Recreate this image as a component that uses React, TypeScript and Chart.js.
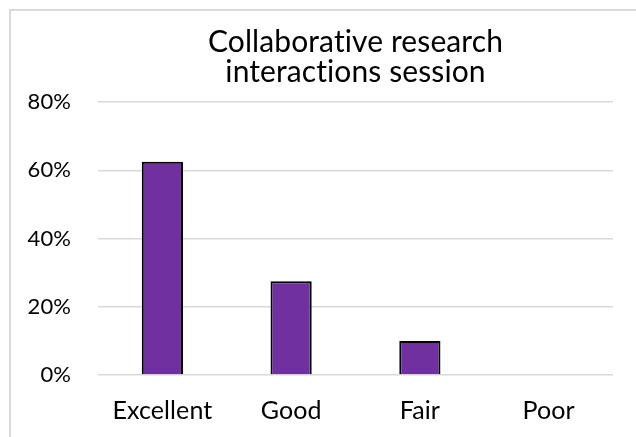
import React, { useEffect, useRef } from "react";
import { Chart, registerables } from "chart.js";

Chart.register(...registerables);

const categories = ["Excellent", "Good", "Fair", "Poor"];
const percentages = [62.5, 27.5, 10, 0];
const yTickValues = [0, 20, 40, 60, 80];
const titleLines = ["Collaborative research", "interactions session"];

const noLigatures = {
  id: "noLigatures",
  beforeDraw(chart: any) {
    const ctx = chart.ctx as any;
    try {
      ctx.textRendering = "optimizeSpeed";
      ctx.letterSpacing = "0.1px";
    } catch (e) {
      /* ignore */
    }
  },
};

export default function App() {
  const ref = useRef<HTMLCanvasElement | null>(null);

  useEffect(() => {
    const canvas = ref.current;
    if (!canvas) return;
    const font = "Lato, 'Open Sans', sans-serif";
    const chart = new Chart(canvas, {
      type: "bar",
      data: {
        labels: categories,
        datasets: [
          {
            data: percentages,
            backgroundColor: "#7030A0",
            borderColor: "#000000",
            borderWidth: 2,
            borderSkipped: "bottom",
            barPercentage: 0.32,
            categoryPercentage: 1,
          },
        ],
      },
      plugins: [noLigatures],
      options: {
        responsive: false,
        animation: false,
        layout: { padding: { left: 0, right: 23, top: 12, bottom: 0 } },
        plugins: {
          legend: { display: false },
          tooltip: { enabled: false },
          title: {
            display: true,
            text: titleLines,
            fullSize: false,
            color: "#000000",
            font: { family: font, size: 30, weight: "normal", lineHeight: 1 },
            padding: { top: 15, bottom: 15 },
          },
        },
        scales: {
          x: {
            grid: { display: false, drawTicks: false },
            border: { display: false },
            ticks: {
              color: "#000000",
              font: { family: font, size: 25, lineHeight: 1.2 },
              padding: 21,
              maxRotation: 0,
            },
            afterFit: (scale: any) => {
              scale.height = 62;
            },
          },
          y: {
            min: 0,
            max: 80,
            grid: { color: "#d9d9d9", lineWidth: 1.5, drawTicks: false },
            border: { display: false },
            afterBuildTicks: (scale: any) => {
              scale.ticks = yTickValues.map((v) => ({ value: v }));
            },
            ticks: {
              color: "#000000",
              font: { family: font, size: 22 },
              padding: 27,
              callback: (v: any) => `${v}%`,
            },
            afterFit: (scale: any) => {
              scale.width = 98;
            },
          },
        },
      },
    });
    return () => chart.destroy();
  }, []);

  return (
    <div
      style={{
        position: "fixed",
        left: 0,
        top: 0,
        width: 636,
        height: 437,
        background: "#ffffff",
        overflow: "hidden",
      }}
    >
      <div
        style={{
          position: "absolute",
          left: 9,
          top: 9,
          right: -10,
          bottom: -10,
          borderLeft: "2px solid #d9d9d9",
          borderTop: "2px solid #d9d9d9",
        }}
      />
      <canvas
        ref={ref}
        width={636}
        height={437}
        style={{ position: "absolute", left: 0, top: 0, display: "block" }}
      />
    </div>
  );
}
